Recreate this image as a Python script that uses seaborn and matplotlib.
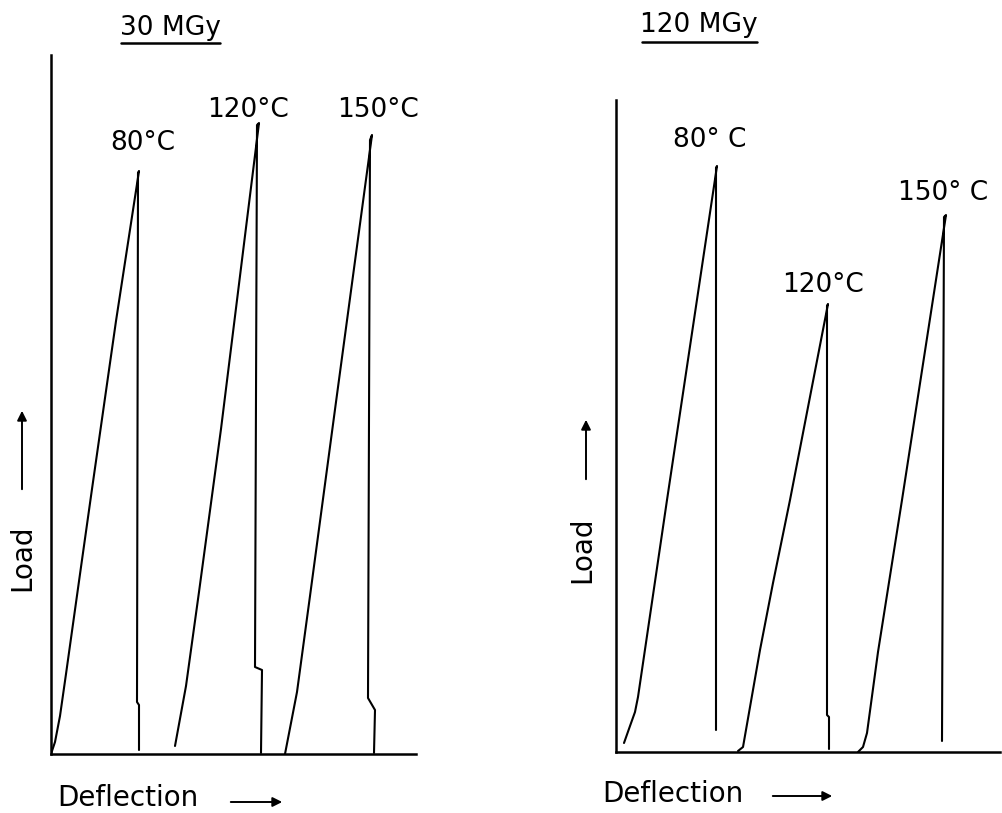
import numpy as np
import pandas as pd
import matplotlib
matplotlib.use("Agg")
import matplotlib.pyplot as plt
import seaborn as sns
from matplotlib.lines import Line2D
from matplotlib.patches import FancyArrowPatch

# -------------------------------
# Traced curves (chart units, origin at the axes corner)
# -------------------------------
# 30 MGy panel
d30_80 = [0, 4, 9, 15, 22, 30, 41, 65, 88, 87, 86, 88, 88]
l30_80 = [0, 12, 38, 80, 130, 187, 265, 433, 583, 581, 52, 49, 4]
d30_120 = [124, 135, 148, 170, 208, 206, 204, 211, 210]
l30_120 = [8, 68, 162, 325, 631, 629, 87, 84, 1]
d30_150 = [234, 246, 259, 285, 321, 319, 317, 324, 323]
l30_150 = [0, 62, 158, 352, 619, 614, 56, 44, 1]

# 120 MGy panel
d120_80 = [8, 14, 19, 22, 36, 51, 101, 100, 100]
l120_80 = [9, 26, 40, 55, 150, 252, 586, 584, 22]
d120_120 = [122, 127, 144, 157, 174, 212, 211, 211, 213, 213]
l120_120 = [1, 5, 102, 169, 252, 448, 446, 37, 35, 3]
d120_150 = [242, 247, 251, 262, 286, 330, 328, 326]
l120_150 = [0, 5, 19, 100, 252, 537, 535, 11]

temps = ["80°C", "120°C", "150°C"]
temps_right = ["80° C", "120°C", "150° C"]
doses = ["30 MGy", "120 MGy"]

# label anchor points (chart units)
lab30_x = [92, 197, 327]
lab30_y = [611, 644, 644]
lab120_x = [94, 207, 327]
lab120_y = [612, 467, 559]


def to_frame(curves, names):
    parts = []
    for (d, l), n in zip(curves, names):
        parts.append(pd.DataFrame({"deflection": d, "load": l, "curve": n}))
    return pd.concat(parts, ignore_index=True)


df30 = to_frame([(d30_80, l30_80), (d30_120, l30_120), (d30_150, l30_150)], temps)
df120 = to_frame([(d120_80, l120_80), (d120_120, l120_120), (d120_150, l120_150)], temps)

sns.set_style("white")
plt.rcParams["font.family"] = ["DejaVu Sans"]
plt.rcParams["text.color"] = "black"

W, H = 1002, 813
fig = plt.figure(figsize=(W / 100, H / 100), dpi=100)


def fx(px):
    return px / W


def fy(py):
    return 1 - py / H


# axes boxes from pixel positions
ax1 = fig.add_axes([fx(51), fy(754), fx(416) - fx(51), fy(55) - fy(754)])
ax2 = fig.add_axes([fx(616), fy(752), fx(1000) - fx(616), fy(100) - fy(752)])

for ax, df, lim, lx, ly, names in [
    (ax1, df30, (365, 699), lab30_x, lab30_y, temps),
    (ax2, df120, (384, 652), lab120_x, lab120_y, temps_right),
]:
    sns.lineplot(data=df, x="deflection", y="load", units="curve", estimator=None,
                 sort=False, color="black", linewidth=1.5, ax=ax, legend=False)
    ax.set_xlim(0, lim[0])
    ax.set_ylim(0, lim[1])
    ax.set_xticks([])
    ax.set_yticks([])
    ax.set_xlabel("")
    ax.set_ylabel("")
    ax.patch.set_alpha(0)
    for s in ["top", "right"]:
        ax.spines[s].set_visible(False)
    for s in ["left", "bottom"]:
        ax.spines[s].set_linewidth(1.8)
        ax.spines[s].set_color("black")
    for x, y, t in zip(lx, ly, names):
        ax.text(x, y, t, ha="center", va="center", fontsize=19, color="black",
                clip_on=False)

fs = 19
# titles with underline
fig.text(fx(170), fy(28), doses[0], ha="center", va="center", fontsize=fs)
fig.add_artist(Line2D([fx(121), fx(220)], [fy(43), fy(43)], color="black", lw=1.8))
fig.text(fx(699), fy(25), doses[1], ha="center", va="center", fontsize=fs)
fig.add_artist(Line2D([fx(642), fx(757)], [fy(42), fy(42)], color="black", lw=1.8))

# axis labels with arrows
fig.text(fx(22), fy(558), "Load", rotation=90, ha="center", va="center", fontsize=20)
fig.text(fx(582), fy(550), "Load", rotation=90, ha="center", va="center", fontsize=20)
fig.text(fx(57), fy(798), "Deflection", ha="left", va="center", fontsize=20)
fig.text(fx(602), fy(794), "Deflection", ha="left", va="center", fontsize=20)

arrow = dict(arrowstyle="-|>", color="black", lw=1.4, mutation_scale=14)
for (x0, y0, x1, y1) in [(22, 492, 22, 408), (586, 482, 586, 417),
                         (228, 802, 285, 802), (770, 796, 835, 796)]:
    fig.add_artist(FancyArrowPatch((fx(x0), fy(y0)), (fx(x1), fy(y1)),
                                   transform=fig.transFigure, **arrow))

fig.savefig("out.png", dpi=100)
